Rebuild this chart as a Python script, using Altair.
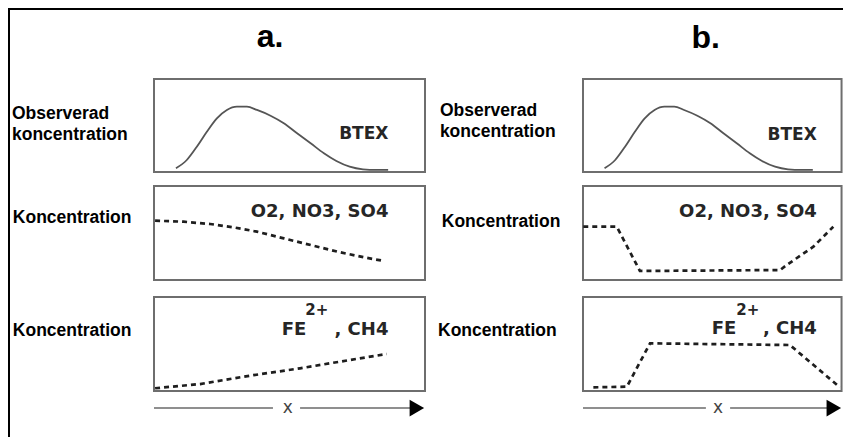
import altair as alt
import pandas as pd

# ---------------- data (panel units 0-100) ----------------
btex_x = [8.1, 12.1, 15.8, 19.5, 23.2, 26.9, 30.6, 34.3, 38.0, 43.0, 47.9, 52.8, 57.8, 62.7, 67.3, 72.2, 77.1, 82.1, 86.4]
btex_y = [4.0, 12.9, 27.2, 43.3, 57.7, 66.7, 70.2, 70.2, 66.7, 60.5, 52.4, 41.6, 30.9, 20.1, 11.8, 5.7, 2.9, 2.2, 2.2]

acc_a_x = [0.4, 10.9, 20.7, 29.4, 38.0, 47.9, 57.8, 67.7, 77.5, 84.9]
acc_a_y = [63.1, 62.0, 59.6, 56.0, 51.4, 44.3, 37.2, 30.1, 24.1, 20.2]

prod_a_x = [0.4, 17.0, 35.4, 53.9, 72.3, 85.9]
prod_a_y = [2.9, 7.4, 16.3, 24.1, 33.0, 39.4]

acc_b_x = [0.1, 12.7, 21.4, 74.1, 76.6, 86.6, 94.1]
acc_b_y = [56.7, 56.7, 9.6, 10.6, 16.0, 35.4, 56.7]

prod_b_x = [3.9, 16.5, 25.2, 77.8, 96.6]
prod_b_y = [3.9, 4.6, 50.7, 48.9, 3.9]

col_titles = ["a.", "b."]
row_labels_top = ["Observerad", "koncentration"]
row_label = "Koncentration"
lbl_btex = "BTEX"
lbl_acc = "O2, NO3, SO4"
lbl_fe = "FE"
lbl_sup = "2+"
lbl_ch4 = ", CH4"
axis_lbl = "x"

# ---------------- layout ----------------
W, H = 835, 429
A_X = [146, 417]
B_X = [575, 841]
TOP_Y = [164, 71]
MID_Y = [272, 178]
BOT_Y = [383, 289]
BOX_END_A = 100
BOX_END_B = 97.2   # right edge of column b's boxes sits at the page edge

BOX = "#6e6e6e"
LABEL_FONT = "Liberation Sans"
INNER_FONT = "DejaVu Sans"


def sc(rng):
    return alt.Scale(domain=[0, 100], range=rng, nice=False, zero=False)


def xy(xs, ys):
    return dict(x=alt.X("x:Q", scale=xs, axis=None), y=alt.Y("y:Q", scale=ys, axis=None))


def box(xs, ys, x_end):
    df = pd.DataFrame({"x": [0], "x2": [x_end], "y": [0], "y2": [100]})
    return alt.Chart(df).mark_rect(fillOpacity=0, stroke=BOX, strokeWidth=2).encode(
        x=alt.X("x:Q", scale=xs, axis=None), x2="x2:Q",
        y=alt.Y("y:Q", scale=ys, axis=None), y2="y2:Q")


def curve(xv, yv, xs, ys, dashed):
    df = pd.DataFrame({"x": xv, "y": yv, "o": list(range(len(xv)))})
    if dashed:
        m = alt.Chart(df).mark_line(color="#1e1e1e", strokeWidth=2.7, strokeDash=[5, 4])
    else:
        m = alt.Chart(df).mark_line(color="#555555", strokeWidth=1.8, interpolate="monotone")
    return m.encode(order="o:Q", **xy(xs, ys))


def text(xs, ys, rows, **style):
    df = pd.DataFrame(rows, columns=["x", "y", "t"])
    return alt.Chart(df).mark_text(**style).encode(text="t:N", **xy(xs, ys))


def left_label(xs, ys, rows):
    return text(xs, ys, rows, font=LABEL_FONT, fontSize=17.5, fontWeight="bold",
                align="left", baseline="alphabetic", color="black")


def inner(xs, ys, rows, align="right", size=18):
    return text(xs, ys, rows, font=INNER_FONT, fontSize=size, fontWeight="bold",
                align=align, baseline="alphabetic", color="#262626")


def arrow(xs, ys, seg, gap_x, head_x, yv):
    segdf = pd.DataFrame({"x": [0, seg[1]], "x2": [seg[0], seg[2]], "y": [yv, yv]})
    line = alt.Chart(segdf).mark_rule(color="#6a6a6a", strokeWidth=1.6).encode(
        x=alt.X("x:Q", scale=xs, axis=None), x2="x2:Q", y=alt.Y("y:Q", scale=ys, axis=None))
    head = alt.Chart(pd.DataFrame({"x": [head_x], "y": [yv]})).mark_point(
        shape="triangle-right", filled=True, size=280, color="black", opacity=1).encode(**xy(xs, ys))
    lab = text(xs, ys, [(gap_x, yv, axis_lbl)], font=INNER_FONT, fontSize=17,
               align="center", baseline="middle", color="#444444")
    return [line, head, lab]


panels = []
# ---- column a ----
xa = sc(A_X)
yt, ym, yb = sc(TOP_Y), sc(MID_Y), sc(BOT_Y)
panels.append(alt.layer(
    box(xa, yt, BOX_END_A), curve(btex_x, btex_y, xa, yt, False),
    inner(xa, yt, [(86.5, 35.5, lbl_btex)], size=17),
    left_label(xa, yt, [(-52.4, 57.0, row_labels_top[0]), (-52.4, 34.4, row_labels_top[1])]),
    text(xa, yt, [(42.8, 134.7, col_titles[0])], font=LABEL_FONT, fontSize=32, fontWeight="bold",
         align="center", baseline="alphabetic", color="black"),
))
panels.append(alt.layer(
    box(xa, ym, BOX_END_A), curve(acc_a_x, acc_a_y, xa, ym, True),
    inner(xa, ym, [(86.5, 67.0, lbl_acc)]),
    left_label(xa, ym, [(-52.1, 60.3, row_label)]),
))
panels.append(alt.layer(
    box(xa, yb, BOX_END_A), curve(prod_a_x, prod_a_y, xa, yb, True),
    inner(xa, yb, [(47.1, 59.6, lbl_fe)], align="left"),
    inner(xa, yb, [(55.8, 80.9, lbl_sup)], align="left", size=15),
    inner(xa, yb, [(86.5, 59.6, lbl_ch4)]),
    left_label(xa, yb, [(-52.1, 58.5, row_label)]),
    *arrow(xa, yb, [43.9, 53.9, 95.0], 49.4, 97.0, -18.1),
))

# ---- column b ----
xb = sc(B_X)
yt, ym, yb = sc(TOP_Y), sc(MID_Y), sc(BOT_Y)
panels.append(alt.layer(
    box(xb, yt, BOX_END_B), curve(btex_x, btex_y, xb, yt, False),
    inner(xb, yt, [(87.9, 34.4, lbl_btex)], size=17),
    left_label(xb, yt, [(-53.8, 60.2, row_labels_top[0]), (-53.8, 37.6, row_labels_top[1])]),
    text(xb, yt, [(46.1, 133.3, col_titles[1])], font=LABEL_FONT, fontSize=32, fontWeight="bold",
         align="center", baseline="alphabetic", color="black"),
))
panels.append(alt.layer(
    box(xb, ym, BOX_END_B), curve(acc_b_x, acc_b_y, xb, ym, True),
    inner(xb, ym, [(87.9, 67.0, lbl_acc)]),
    left_label(xb, ym, [(-53.1, 56.4, row_label)]),
))
panels.append(alt.layer(
    box(xb, yb, BOX_END_B), curve(prod_b_x, prod_b_y, xb, yb, True),
    inner(xb, yb, [(48.4, 60.6, lbl_fe)], align="left"),
    inner(xb, yb, [(57.6, 80.9, lbl_sup)], align="left", size=15),
    inner(xb, yb, [(87.9, 60.6, lbl_ch4)]),
    left_label(xb, yb, [(-54.5, 58.5, row_label)]),
    *arrow(xb, yb, [46.2, 55.3, 91.8], 50.8, 94.3, -18.1),
))

# ---- outer frame (left and top edges) ----
fr = alt.Chart(pd.DataFrame({"z": [0]}))
frame_left = fr.mark_rule(color="black", strokeWidth=3).encode(
    x=alt.value(0.5), y=alt.value(0), y2=alt.value(H))
frame_top = fr.mark_rule(color="black", strokeWidth=3).encode(
    y=alt.value(0.5), x=alt.value(0), x2=alt.value(W))

chart = alt.layer(*panels, frame_left, frame_top).resolve_scale(
    x="independent", y="independent"
).properties(
    width=W, height=H, padding=0, autosize=alt.AutoSizeParams(type="none"),
    background="white",
).configure_view(stroke="transparent")

chart.save("out.html", embed_options={"renderer": "svg", "actions": False})
